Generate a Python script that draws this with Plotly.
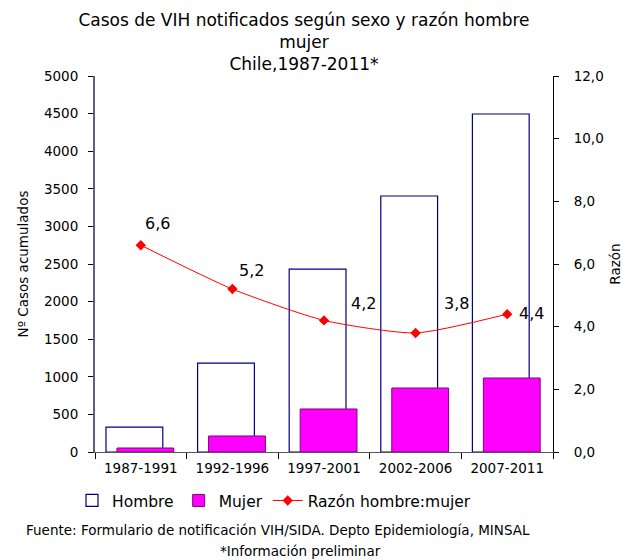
import plotly.graph_objects as go

categories = ["1987-1991", "1992-1996", "1997-2001", "2002-2006", "2007-2011"]
hombre = [332, 1183, 2433, 3404, 4495]
mujer = [53, 213, 572, 851, 984]
razon = [6.6, 5.2, 4.2, 3.8, 4.4]
razon_labels = [f"{v:.1f}".replace(".", ",") for v in razon]
label_dx = [2, 5, 25, 26, 10]
label_dy = [22, 19, 17, 29, 1]

FONT = "DejaVu Sans"
TICK = 13.5

fig = go.Figure()
fig.add_trace(go.Bar(
    x=categories, y=hombre, name="Hombre",
    marker=dict(color="white", line=dict(color="#000080", width=1.2)),
    width=0.62, offset=-0.38,
))
fig.add_trace(go.Bar(
    x=categories, y=mujer, name="Mujer",
    marker=dict(color="#FF00FF", line=dict(color="#800080", width=1)),
    width=0.62, offset=-0.26,
))
fig.add_trace(go.Scatter(
    x=categories, y=razon, name="Razón hombre:mujer", yaxis="y2",
    mode="lines+markers",
    line=dict(color="red", width=1, shape="spline", smoothing=0.6),
    marker=dict(symbol="diamond", size=8, color="red"),
))

for c, v, t, dx, dy in zip(categories, razon, razon_labels, label_dx, label_dy):
    fig.add_annotation(
        x=c, y=v, xref="x", yref="y2", text=t, showarrow=False,
        xanchor="left", yanchor="middle", xshift=dx, yshift=dy,
        font=dict(size=16, color="black", family=FONT),
    )

fig.update_layout(
    width=623, height=560,
    margin=dict(l=95, r=70, t=76, b=108, autoexpand=False),
    paper_bgcolor="white", plot_bgcolor="white",
    font=dict(family=FONT, size=13, color="black"),
    separators=",.",
    barmode="overlay",
    title=dict(
        text="Casos de VIH notificados según sexo y razón hombre<br>mujer<br>Chile,1987-2011*",
        x=(304 - 95) / 458, xref="paper", xanchor="center", y=1 - 26 / 560, yanchor="top",
        font=dict(size=17, family=FONT),
    ),
    xaxis=dict(
        showline=True, linecolor="#555555", ticks="outside", tickson="boundaries",
        ticklen=6, tickcolor="black", showgrid=False,
        tickfont=dict(size=TICK), ticklabelstandoff=4,
    ),
    yaxis=dict(
        range=[0, 5000], dtick=500, showline=True, linecolor="#6a5a7a", linewidth=2,
        ticks="outside", ticklen=5, tickcolor="black", showgrid=False,
        title=dict(text="Nº Casos acumulados", font=dict(size=TICK), standoff=12),
        tickfont=dict(size=TICK), ticklabelstandoff=7,
    ),
    yaxis2=dict(
        range=[0, 12], dtick=2, tickformat=".1f", overlaying="y", side="right",
        showline=True, linecolor="black", ticks="outside", ticklen=5, tickcolor="black",
        showgrid=False, title=dict(text="Razón", font=dict(size=TICK), standoff=10),
        tickfont=dict(size=TICK), ticklabelstandoff=12,
    ),
    legend=dict(
        orientation="h", x=(72 - 95) / 458, xanchor="left", y=-0.13, yanchor="middle",
        font=dict(size=15.5), traceorder="normal",
    ),
    showlegend=True,
)

fig.add_annotation(
    text="Fuente: Formulario de notificación VIH/SIDA. Depto Epidemiología, MINSAL",
    xref="paper", yref="paper", x=(278 - 95) / 458, y=-78 / 376,
    xanchor="center", yanchor="middle", showarrow=False, font=dict(size=13.5),
)
fig.add_annotation(
    text="*Información preliminar",
    xref="paper", yref="paper", x=(300 - 95) / 458, y=-99 / 376,
    xanchor="center", yanchor="middle", showarrow=False, font=dict(size=13.5),
)

fig.write_html(
    "out.html",
    config={"displayModeBar": False},
    post_script="document.body.style.margin='0';document.body.style.overflow='hidden';",
)
